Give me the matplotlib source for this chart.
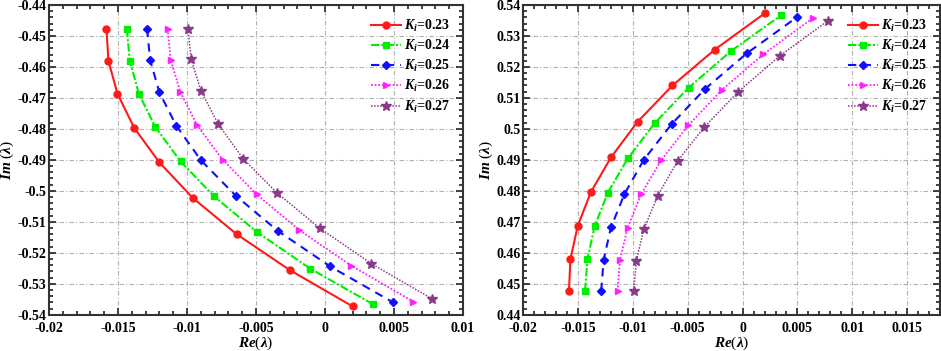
import numpy as np
import matplotlib
matplotlib.use("Agg")
from matplotlib import pyplot as plt
from matplotlib.ticker import MultipleLocator, AutoMinorLocator, FormatStrFormatter

plt.rcParams["font.family"] = ["Liberation Serif", "DejaVu Serif"]
plt.rcParams["font.weight"] = "bold"
plt.rcParams["mathtext.fontset"] = "custom"
plt.rcParams["mathtext.it"] = "Liberation Serif:italic:bold"
plt.rcParams["mathtext.rm"] = "Liberation Serif:bold"

# gain values
ki_values = [0.23, 0.24, 0.25, 0.26, 0.27]

# Re(lambda) for each Ki
re_023 = [-0.01583, -0.01569, -0.01504, -0.01383, -0.01200, -0.00957, -0.00639, -0.00253, 0.00202]
re_024 = [-0.01436, -0.01414, -0.01349, -0.01229, -0.01046, -0.00802, -0.00492, -0.00106, 0.00349]
re_025 = [-0.01289, -0.01267, -0.01200, -0.01077, -0.00899, -0.00648, -0.00342, 0.00039, 0.00494]
re_026 = [-0.01140, -0.01118, -0.01048, -0.00925, -0.00742, -0.00496, -0.00188, 0.00190, 0.00639]
re_027 = [-0.00993, -0.00969, -0.00899, -0.00773, -0.00593, -0.00349, -0.00039, 0.00337, 0.00778]

# Im(lambda), lower branch (upper branch is the mirror image)
im_023 = [-0.4477, -0.4580, -0.4686, -0.4796, -0.4908, -0.5023, -0.5140, -0.5256, -0.5373]
im_024 = [-0.4477, -0.4580, -0.4686, -0.4794, -0.4905, -0.5018, -0.5133, -0.5251, -0.5366]
im_025 = [-0.4477, -0.4577, -0.4682, -0.4790, -0.4901, -0.5015, -0.5129, -0.5244, -0.5360]
im_026 = [-0.4477, -0.4577, -0.4681, -0.4789, -0.4899, -0.5011, -0.5126, -0.5241, -0.5357]
im_027 = [-0.4477, -0.4575, -0.4677, -0.4785, -0.4896, -0.5006, -0.5120, -0.5235, -0.5349]

re_all = [re_023, re_024, re_025, re_026, re_027]
im_all = [im_023, im_024, im_025, im_026, im_027]

styles = [
    dict(color="#ff1a1a", ls="-", marker="o", ms=5, lw=1.5),
    dict(color="#00ee00", ls=(0, (4, 1, 1, 1)), marker="s", ms=5, lw=1.5),
    dict(color="#1010ff", ls=(0, (4, 3)), marker="D", ms=4, lw=1.5),
    dict(color="#ff22ff", ls=(0, (1, 1)), marker=">", ms=5, lw=1.3),
    dict(color="#8b3a8b", ls=(0, (1, 1)), marker="*", ms=7, lw=1.1),
]


def style_axes(ax, xlim, ylim):
    ax.set_xlim(*xlim)
    ax.set_ylim(*ylim)
    ax.xaxis.set_major_locator(MultipleLocator(0.005))
    ax.yaxis.set_major_locator(MultipleLocator(0.01))
    ax.xaxis.set_minor_locator(AutoMinorLocator(5))
    ax.yaxis.set_minor_locator(AutoMinorLocator(5))
    ax.xaxis.set_major_formatter(FormatStrFormatter("%g"))
    ax.yaxis.set_major_formatter(FormatStrFormatter("%g"))
    ax.tick_params(which="both", direction="in", top=True, right=True,
                   labelsize=10, width=1.2, colors="#222222")
    ax.tick_params(axis="x", pad=5)
    ax.tick_params(axis="y", pad=2)
    ax.tick_params(which="major", length=5)
    ax.tick_params(which="minor", length=3)
    for lab in ax.get_xticklabels() + ax.get_yticklabels():
        lab.set_fontweight("bold")
        lab.set_color("black")
    for sp in ax.spines.values():
        sp.set_linewidth(1.5)
        sp.set_color("#333333")
    ax.grid(True, which="major", color="#b0b0b0", lw=0.8, ls=(0, (4, 2, 1, 2)))
    ax.set_axisbelow(True)
    ax.set_xlabel(r"$Re$($\lambda$)", fontsize=11, labelpad=0)
    ax.set_ylabel(r"$Im$ ($\lambda$)", fontsize=11, labelpad=1)
    ax.legend(loc="upper right", frameon=False, fontsize=10, handlelength=2.2,
              handletextpad=0.2, labelspacing=0.3, borderaxespad=0.5)


fig = plt.figure(figsize=(9.41, 3.51), dpi=100)
ax1 = fig.add_axes([0.052, 0.103, 0.440, 0.883])
ax2 = fig.add_axes([0.556, 0.103, 0.443, 0.883])

for ki, re, im, st in zip(ki_values, re_all, im_all, styles):
    label = r"$K_i$=%.2f" % ki
    ax1.plot(re, im, label=label, **st)
    ax2.plot(re, -np.array(im), label=label, **st)

style_axes(ax1, (-0.02, 0.01), (-0.54, -0.44))
style_axes(ax2, (-0.02, 0.018), (0.44, 0.54))

fig.savefig("out.png", dpi=100)
